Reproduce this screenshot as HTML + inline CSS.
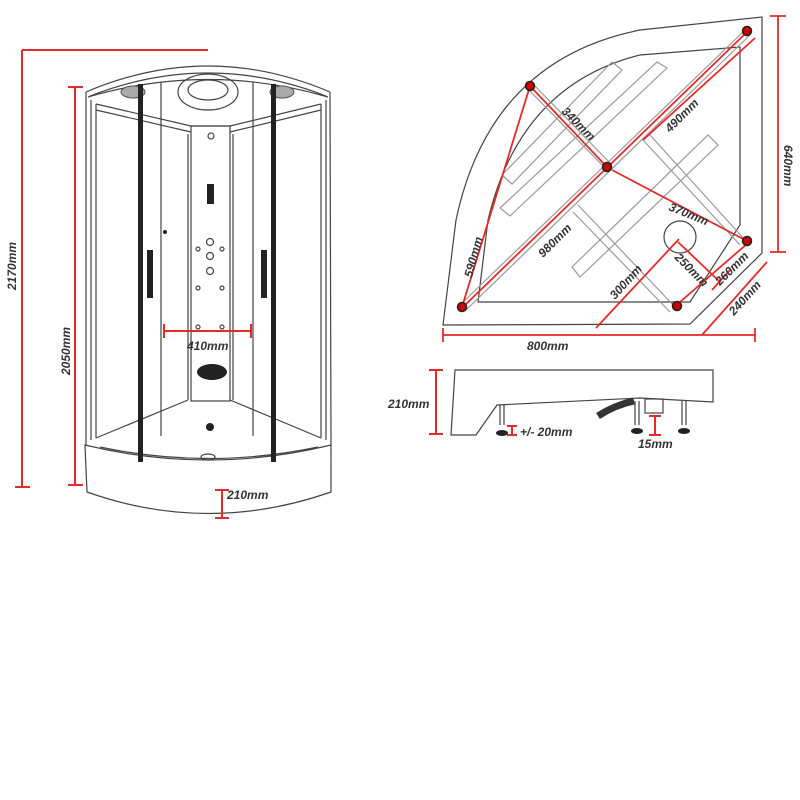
<!DOCTYPE html>
<html><head><meta charset="utf-8"><style>
html,body{margin:0;padding:0;background:#fff}
svg{display:block}
text{font-family:"Liberation Sans",sans-serif;font-style:italic;font-weight:bold;fill:#333;font-size:12px}
</style></head><body>
<svg width="800" height="800" viewBox="0 0 800 800" xmlns="http://www.w3.org/2000/svg">
<rect width="800" height="800" fill="#fff"/>
<!-- LEFT: cabin -->
<g fill="none" stroke="#444" stroke-width="1.2">
  <path d="M86,92 Q208,40 330,92"/>
  <path d="M90,96 Q208,50 326,96"/>
  <path d="M88,97 Q208,62 328,97"/>
  <path d="M86,92 L86,445 M330,92 L331,445"/>
  <path d="M91,100 L91,440 M326,100 L326,440"/>
  <path d="M96,104 L96,438 M321,104 L321,438"/>
  <path d="M96,104 L191,126 L230,126 L321,104"/>
  <path d="M96,110 L191,132 M321,110 L230,132"/>
  <rect x="191" y="126" width="39" height="275"/>
  <path d="M233,134 L233,400 M188,134 L188,400"/>
  <path d="M161,82 L161,436 M253,82 L253,436"/>
  <path d="M96,438 L188,400 M321,438 L230,400"/>
  <path d="M100,447 Q208,470 318,447"/>
  <path d="M85,445 L87,492 Q208,535 331,492 L331,445 Q208,475 85,445Z" fill="#fff"/>
  <ellipse cx="208" cy="92" rx="30" ry="18"/>
  <ellipse cx="208" cy="90" rx="20" ry="10"/>
  <ellipse cx="208" cy="457" rx="7" ry="3"/>
  <circle cx="211" cy="136" r="3"/>
  <circle cx="210" cy="242" r="3.5"/><circle cx="210" cy="256" r="3.5"/><circle cx="210" cy="271" r="3.5"/>
  <circle cx="198" cy="249" r="2"/><circle cx="222" cy="249" r="2"/>
  <circle cx="198" cy="288" r="2"/><circle cx="222" cy="288" r="2"/>
  <circle cx="198" cy="327" r="2"/><circle cx="222" cy="327" r="2"/>
</g>
<ellipse cx="133" cy="92" rx="12" ry="6" fill="#aaa" stroke="#555"/>
<ellipse cx="282" cy="92" rx="12" ry="6" fill="#aaa" stroke="#555"/>
<rect x="138" y="84" width="5" height="378" fill="#222"/>
<rect x="271" y="84" width="5" height="378" fill="#222"/>
<rect x="147" y="250" width="6" height="48" fill="#222"/>
<rect x="261" y="250" width="6" height="48" fill="#222"/>
<rect x="207" y="184" width="7" height="20" fill="#222"/>
<ellipse cx="212" cy="372" rx="15" ry="8" fill="#222"/>
<circle cx="210" cy="427" r="4" fill="#222"/>
<circle cx="165" cy="232" r="2" fill="#222"/>
<g stroke="#e52a2a" stroke-width="2" fill="none">
  <path d="M22,50 L208,50 M22,50 L22,487 M15,487 L30,487"/>
  <path d="M75,87 L75,485 M68,87 L83,87 M68,485 L83,485"/>
  <path d="M164,331 L251,331 M164,324 L164,338 M251,324 L251,338"/>
  <path d="M222,490 L222,518 M215,490 L229,490 M215,518 L229,518"/>
</g>
<text transform="translate(16,290) rotate(-90)">2170mm</text>
<text transform="translate(70,375) rotate(-90)">2050mm</text>
<text x="187" y="350">410mm</text>
<text x="227" y="499">210mm</text>

<!-- RIGHT TOP: tray plan -->
<g fill="none" stroke="#444" stroke-width="1.2">
  <path d="M443,325 L456,220 Q490,60 640,30 L762,17 L762,253 L690,324 Z"/>
  <path d="M478,302 L488,220 Q520,85 640,55 L740,47 L740,225 L690,302 Z"/>
  <g stroke="#999">
    <path d="M502,175 L612,62 L622,70 L512,184Z"/>
    <path d="M500,208 L657,62 L667,68 L510,216Z"/>
    <path d="M572,267 L708,135 L718,145 L580,277Z"/>
    <path d="M578,205 L676,308 M573,212 L670,312"/>
    <path d="M650,135 L745,240 M643,140 L740,245"/>
    <path d="M527,88 L607,170 M533,84 L612,165"/>
    <path d="M460,305 L745,30 M466,310 L750,35"/>
  </g>
  <circle cx="680" cy="237" r="16"/>
</g>
<g stroke="#e52a2a" stroke-width="1.8" fill="none">
  <path d="M463,307 L747,32"/>
  <path d="M530,86 L607,167"/>
  <path d="M462,307 L530,86"/>
  <path d="M643,140 L755,38"/>
  <path d="M612,170 L747,241"/>
  <path d="M678,242 L720,282 M712,290 L730,270"/>
  <path d="M680,302 L748,243"/>
  <path d="M596,328 L679,239"/>
  <path d="M702,335 L767,262"/>
  <path d="M443,335 L755,335 M443,328 L443,342 M755,328 L755,342"/>
  <path d="M778,16 L778,252 M770,16 L786,16 M770,252 L786,252"/>
</g>
<g fill="#c00" stroke="#222" stroke-width="1.5">
  <circle cx="747" cy="31" r="4.5"/><circle cx="530" cy="86" r="4.5"/>
  <circle cx="607" cy="167" r="4.5"/><circle cx="747" cy="241" r="4.5"/>
  <circle cx="677" cy="306" r="4.5"/><circle cx="462" cy="307" r="4.5"/>
</g>
<g font-size="11">
<text transform="translate(561,112) rotate(45)">340mm</text>
<text transform="translate(670,133) rotate(-45)">490mm</text>
<text transform="translate(668,210) rotate(22)">370mm</text>
<text transform="translate(543,258) rotate(-45)">980mm</text>
<text transform="translate(472,278) rotate(-75)">590mm</text>
<text transform="translate(674,258) rotate(45)">250mm</text>
<text transform="translate(720,286) rotate(-45)">260mm</text>
<text transform="translate(615,300) rotate(-48)">300mm</text>
<text transform="translate(734,316) rotate(-48)">240mm</text>
<text x="527" y="350">800mm</text>
<text transform="translate(784,145) rotate(90)">640mm</text>
</g>

<!-- RIGHT BOTTOM: side view -->
<g fill="none" stroke="#444" stroke-width="1.2">
  <path d="M455,370 L713,370 L713,402 L640,398 L497,405 L476,435 L451,435 Z"/>
  <path d="M500,405 L500,425 M504,405 L504,425"/>
  <path d="M635,401 L635,425 M639,401 L639,425"/>
  <path d="M682,401 L682,425 M686,401 L686,425"/>
  <rect x="645" y="399" width="18" height="14"/>
</g>
<path d="M598,416 Q615,405 634,401" stroke="#333" stroke-width="7" fill="none"/>
<g fill="#222"><ellipse cx="502" cy="433" rx="6" ry="3"/><ellipse cx="637" cy="431" rx="6" ry="3"/><ellipse cx="684" cy="431" rx="6" ry="3"/></g>
<g stroke="#e52a2a" stroke-width="2" fill="none">
  <path d="M436,370 L436,434 M429,370 L443,370 M429,434 L443,434"/>
  <path d="M512,426 L512,435 M507,426 L517,426 M507,435 L517,435"/>
  <path d="M655,416 L655,435 M649,416 L661,416 M649,435 L661,435"/>
</g>
<text x="388" y="408">210mm</text>
<text x="520" y="436" font-size="13" font-style="normal">+/- 20mm</text>
<text x="638" y="448" font-size="11" font-style="normal">15mm</text>
</svg>
</body></html>
